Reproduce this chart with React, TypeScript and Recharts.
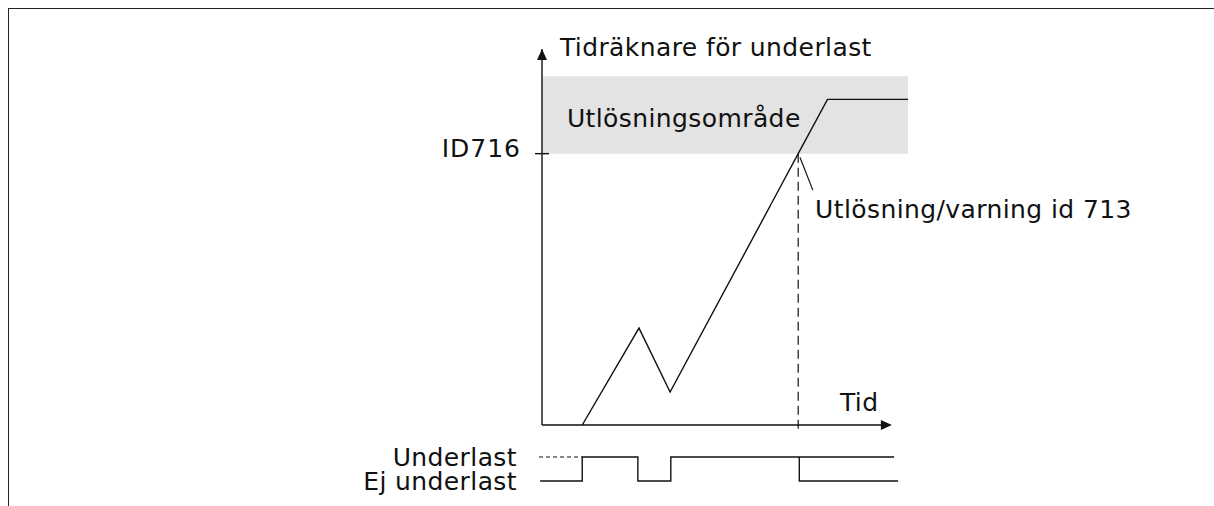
import React from 'react';
import {
  ComposedChart,
  LineChart,
  Line,
  XAxis,
  YAxis,
  ReferenceArea,
  ReferenceLine,
  ReferenceDot,
} from 'recharts';

const FONT = '"DejaVu Sans", Verdana, sans-serif';
const INK = '#111';

// underload counter curve (time -> counter)
const counterTime = [11, 26.5, 35, 70, 78, 100];
const counterValue = [0, 25, 8.5, 70, 84, 84];

// trip level (ID716) and top of the trip zone
const tripLevel = 70;
const tripZoneTop = 90;
const tripTime = 70;

// underload signal below the chart (1 = Underlast, 0 = Ej underlast)
const signalTime = [-0.5, 11, 26.2, 35.2, 96.2];
const signalLevel = [0, 1, 0, 1, 1];
const tripSignalTime = [70.3, 70.3, 97.3];
const tripSignalLevel = [1, 0, 0];
const dashedTime = [-0.8, 11];
const dashedLevel = [1, 1];
const signalLabels = ['Ej underlast', 'Underlast'];

const counterData = counterTime.map((t, i) => ({ t, v: counterValue[i] }));
const signalData = signalTime.map((t, i) => ({ t, v: signalLevel[i] }));
const tripSignalData = tripSignalTime.map((t, i) => ({ t, v: tripSignalLevel[i] }));
const dashedData = dashedTime.map((t, i) => ({ t, v: dashedLevel[i] }));

const textStyle = { fontSize: 25, fontFamily: FONT, fill: INK, letterSpacing: 0.4 };

// Custom tick for ID716: tick mark crossing the axis + label
const IdTick = ({ x, y }: any) => (
  <g>
    <line x1={x - 7} x2={x + 7} y1={y} y2={y} stroke={INK} strokeWidth={1.4} />
    <text x={x - 21} y={y + 3.5} textAnchor="end" {...textStyle} letterSpacing={1}>
      ID716
    </text>
  </g>
);

const UpArrow = ({ cx, cy }: any) => (
  <path d={`M${cx},${cy} L${cx - 5},${cy + 11} L${cx + 5},${cy + 11} Z`} fill={INK} />
);

const RightArrow = ({ cx, cy }: any) => (
  <path d={`M${cx},${cy} L${cx - 11},${cy - 5} L${cx - 11},${cy + 5} Z`} fill={INK} />
);

const textAt = (text: string) => ({ cx, cy }: any) => (
  <text x={cx} y={cy} {...textStyle}>
    {text}
  </text>
);

export default function App() {
  return (
    <div
      style={{
        position: 'fixed',
        top: 8,
        left: 8,
        right: 0,
        bottom: 0,
        borderTop: '1px solid #222',
        borderLeft: '1px solid #222',
        background: '#fff',
        fontFamily: FONT,
      }}
    >
      <div style={{ position: 'absolute', top: 0, left: 0 }}>
        <ComposedChart
          width={1200}
          height={430}
          data={counterData}
          margin={{ top: 40, right: 301, bottom: 14, left: 0 }}
        >
          <XAxis type="number" dataKey="t" domain={[0, 100]} hide />
          <YAxis
            type="number"
            dataKey="v"
            domain={[0, 97]}
            ticks={[tripLevel]}
            interval={0}
            width={533}
            tickSize={0}
            tickMargin={0}
            tickLine={false}
            axisLine={{ stroke: INK, strokeWidth: 1.4 }}
            tick={(props: any) => <IdTick {...props} />}
          />
          <ReferenceArea
            x1={0}
            x2={100}
            y1={tripLevel}
            y2={tripZoneTop}
            fill="#e3e3e3"
            fillOpacity={1}
            stroke="none"
          />
          <ReferenceLine
            segment={[{ x: 0, y: 0 }, { x: 93, y: 0 }]}
            stroke={INK}
            strokeWidth={1.4}
            ifOverflow="visible"
          />
          <ReferenceLine
            segment={[{ x: tripTime, y: tripLevel }, { x: tripTime, y: -1.5 }]}
            stroke={INK}
            strokeWidth={1.2}
            strokeDasharray="9 5"
            ifOverflow="visible"
          />
          <ReferenceLine
            segment={[{ x: 70.5, y: 69 }, { x: 74, y: 60.6 }]}
            stroke={INK}
            strokeWidth={1.2}
            ifOverflow="visible"
          />
          <ReferenceDot x={0} y={97} r={0} shape={UpArrow} ifOverflow="visible" />
          <ReferenceDot x={95.6} y={0} r={0} shape={RightArrow} ifOverflow="visible" />
          <ReferenceDot x={4.9} y={95.1} r={0} shape={textAt('Tidräknare för underlast')} ifOverflow="visible" />
          <ReferenceDot x={6.8} y={77} r={0} shape={textAt('Utlösningsområde')} ifOverflow="visible" />
          <ReferenceDot x={74.6} y={53.5} r={0} shape={textAt('Utlösning/varning id 713')} ifOverflow="visible" />
          <ReferenceDot x={81.4} y={3.5} r={0} shape={textAt('Tid')} ifOverflow="visible" />
          <Line
            type="linear"
            dataKey="v"
            stroke={INK}
            strokeWidth={1.4}
            dot={false}
            activeDot={false}
            isAnimationActive={false}
          />
        </ComposedChart>
      </div>
      <div style={{ position: 'absolute', top: 430, left: 0 }}>
        <LineChart width={1200} height={68} margin={{ top: 18, right: 301, bottom: 26, left: 0 }}>
          <XAxis type="number" dataKey="t" domain={[-6, 100]} hide />
          <YAxis
            type="number"
            dataKey="v"
            domain={[0, 1]}
            ticks={[0, 1]}
            interval={0}
            width={511}
            axisLine={false}
            tickLine={false}
            tickSize={0}
            tickMargin={3}
            tick={textStyle}
            tickFormatter={(v: number) => signalLabels[v]}
          />
          <Line
            data={signalData}
            type="stepAfter"
            dataKey="v"
            stroke={INK}
            strokeWidth={1.4}
            dot={false}
            activeDot={false}
            isAnimationActive={false}
          />
          <Line
            data={tripSignalData}
            type="linear"
            dataKey="v"
            stroke={INK}
            strokeWidth={1.4}
            dot={false}
            activeDot={false}
            isAnimationActive={false}
          />
          <Line
            data={dashedData}
            type="linear"
            dataKey="v"
            stroke={INK}
            strokeWidth={1.2}
            strokeDasharray="4 3"
            dot={false}
            activeDot={false}
            isAnimationActive={false}
          />
        </LineChart>
      </div>
    </div>
  );
}
